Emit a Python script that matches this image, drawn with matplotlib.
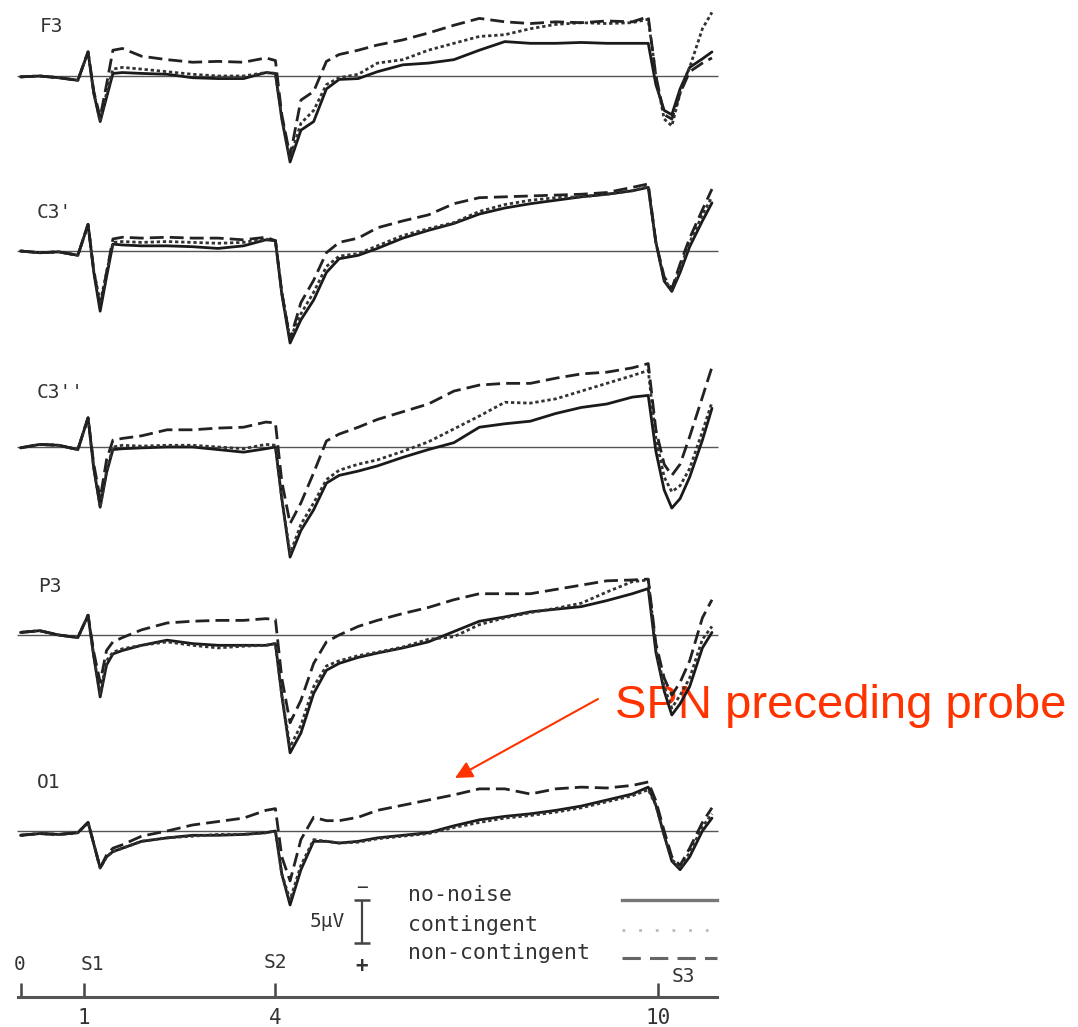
import matplotlib
matplotlib.use("Agg")
import matplotlib.pyplot as plt
from matplotlib.lines import Line2D
from matplotlib.transforms import blended_transform_factory

# ---------------- data (µV, negative plotted upward) ----------------
time_s = [0.0, 0.3, 0.6, 0.9, 1.06, 1.15, 1.25, 1.35, 1.45, 1.6, 1.9, 2.3, 2.7, 3.1,
          3.5, 3.85, 4.0, 4.1, 4.23, 4.4, 4.6, 4.8, 5.0, 5.3, 5.6, 6.0, 6.4, 6.8,
          7.2, 7.6, 8.0, 8.4, 8.8, 9.2, 9.6, 9.85, 9.97, 10.1, 10.22, 10.35, 10.5,
          10.7, 10.85]

channels = ["F3", "C3'", "C3''", "P3", "O1"]
conditions = ["no-noise", "contingent", "non-contingent"]

f3_no_noise = [0.1, 0.0, 0.2, 0.5, -2.8, 2.0, 5.3, 2.5, -0.3, -0.4, -0.3, -0.2, 0.2, 0.3, 0.3, -0.4, -0.3, 5.0, 10.0, 6.3, 5.3, 1.5, 0.4, 0.3, -0.5, -1.3, -1.5, -1.9, -3.0, -4.0, -3.8, -3.8, -3.9, -3.8, -3.8, -3.8, 1.0, 4.0, 4.5, 1.5, -1.0, -2.0, -2.8]
f3_contingent = [0.1, 0.0, 0.2, 0.5, -2.8, 2.0, 5.3, 2.0, -0.8, -1.0, -0.8, -0.5, -0.2, 0.0, 0.0, -0.4, -0.3, 4.8, 9.5, 5.5, 4.0, 1.0, 0.2, -0.2, -1.5, -1.9, -3.0, -3.8, -4.6, -4.8, -5.5, -6.0, -6.2, -6.1, -6.2, -6.6, 0.0, 5.0, 5.8, 2.0, -1.0, -5.5, -7.4]
f3_non_contingent = [0.1, 0.0, 0.2, 0.5, -2.8, 1.8, 4.8, 1.0, -3.0, -3.2, -2.3, -1.9, -1.6, -1.7, -1.6, -2.1, -1.8, 4.5, 9.3, 2.8, 1.8, -1.7, -2.5, -3.0, -3.6, -4.2, -5.0, -5.9, -6.7, -6.3, -6.1, -6.3, -6.2, -6.4, -6.3, -6.9, 0.0, 4.5, 5.0, 2.0, -0.5, -1.5, -2.1]

c3a_no_noise = [0.0, 0.2, 0.1, 0.5, -3.1, 2.5, 7.0, 3.0, -0.8, -0.7, -0.6, -0.6, -0.5, -0.3, -0.6, -1.3, -1.2, 5.0, 10.7, 8.0, 5.7, 2.5, 0.9, 0.5, -0.3, -1.5, -2.4, -3.2, -4.3, -5.0, -5.5, -5.9, -6.3, -6.6, -7.0, -7.4, -1.0, 3.5, 4.7, 2.5, -0.5, -3.5, -5.6]
c3a_contingent = [0.0, 0.2, 0.1, 0.5, -3.1, 2.3, 6.0, 2.5, -1.0, -1.1, -1.0, -1.1, -1.0, -0.9, -1.0, -1.4, -1.2, 4.8, 10.2, 7.3, 4.8, 1.8, 0.6, 0.3, -0.6, -1.8, -2.6, -3.3, -4.6, -5.4, -5.9, -6.2, -6.3, -6.6, -7.0, -7.5, -1.0, 3.3, 4.5, 2.0, -1.0, -4.2, -6.3]
c3a_non_contingent = [0.0, 0.2, 0.1, 0.5, -3.1, 2.3, 6.5, 2.5, -1.4, -1.6, -1.5, -1.6, -1.5, -1.5, -1.3, -1.6, -1.2, 4.8, 10.3, 6.0, 3.4, 0.2, -1.0, -1.5, -2.7, -3.5, -4.2, -5.5, -6.2, -6.3, -6.4, -6.5, -6.6, -6.8, -7.4, -7.8, -1.0, 3.0, 4.4, 1.5, -1.5, -4.8, -7.2]

c3b_no_noise = [0.1, -0.3, -0.2, 0.3, -3.4, 2.5, 7.0, 3.0, 0.3, 0.2, 0.1, 0.0, 0.0, 0.3, 0.6, 0.2, 0.0, 6.0, 12.8, 9.7, 7.3, 4.2, 3.3, 2.8, 2.2, 1.2, 0.3, -0.5, -2.3, -2.7, -3.0, -3.9, -4.6, -5.0, -5.8, -6.0, 0.5, 5.0, 7.1, 6.0, 3.5, -0.8, -4.5]
c3b_contingent = [0.1, -0.3, -0.2, 0.3, -3.4, 2.5, 7.0, 2.8, 0.0, -0.2, -0.1, -0.2, -0.2, 0.0, 0.2, -0.3, -0.2, 6.0, 12.4, 9.0, 6.5, 3.8, 2.7, 2.0, 1.5, 0.5, -0.6, -2.1, -3.6, -5.2, -5.1, -5.6, -6.5, -7.4, -8.3, -8.9, -1.0, 3.5, 5.2, 4.5, 2.5, -1.8, -5.2]
c3b_non_contingent = [0.1, -0.3, -0.2, 0.3, -3.4, 2.0, 6.0, 1.5, -0.8, -1.0, -1.3, -2.0, -2.0, -2.2, -2.3, -2.9, -2.8, 4.0, 8.9, 6.5, 3.0, -0.7, -1.5, -2.3, -3.2, -4.1, -5.0, -6.5, -7.2, -7.4, -7.4, -8.0, -8.5, -8.7, -9.2, -9.7, -2.0, 2.0, 3.3, 2.0, -1.2, -5.8, -9.3]

p3_no_noise = [-0.3, -0.5, 0.0, 0.3, -2.3, 2.5, 7.2, 3.5, 2.2, 1.8, 1.2, 0.6, 1.0, 1.2, 1.2, 1.2, 1.0, 7.0, 13.7, 11.4, 6.8, 4.1, 3.3, 2.6, 2.1, 1.5, 0.8, -0.4, -1.6, -2.1, -2.7, -3.0, -3.3, -4.0, -4.8, -5.4, 2.0, 6.5, 9.3, 8.0, 6.0, 1.5, -0.3]
p3_contingent = [-0.3, -0.5, 0.0, 0.3, -2.3, 2.5, 6.8, 3.0, 2.0, 1.6, 1.2, 0.8, 1.2, 1.5, 1.3, 1.2, 1.0, 7.0, 13.0, 10.5, 6.0, 3.6, 3.0, 2.4, 2.0, 1.4, 0.5, 0.2, -1.2, -2.0, -2.6, -3.1, -3.7, -5.0, -6.2, -6.4, 1.5, 6.0, 8.5, 7.0, 5.0, 0.5, -1.0]
p3_non_contingent = [-0.3, -0.5, 0.0, 0.3, -2.3, 2.0, 5.5, 1.8, 0.8, 0.3, -0.6, -1.4, -1.6, -1.7, -1.7, -1.9, -1.8, 5.0, 10.2, 7.6, 3.3, 0.8, 0.0, -1.0, -1.7, -2.5, -3.2, -4.1, -4.8, -4.8, -4.8, -5.3, -5.8, -6.3, -6.4, -6.5, 1.0, 5.0, 7.0, 5.5, 3.0, -2.0, -4.1]

o1_no_noise = [0.5, 0.3, 0.4, 0.2, -1.0, 1.5, 4.3, 3.0, 2.4, 2.0, 1.2, 0.8, 0.5, 0.5, 0.4, 0.2, 0.0, 5.0, 8.6, 4.5, 1.2, 1.2, 1.4, 1.2, 0.8, 0.5, 0.2, -0.6, -1.3, -1.7, -2.0, -2.4, -2.9, -3.6, -4.3, -5.1, -3.0, 0.5, 3.5, 4.5, 3.0, 0.0, -1.5]
o1_contingent = [0.5, 0.3, 0.4, 0.2, -1.0, 1.5, 4.3, 3.0, 2.4, 2.0, 1.2, 0.8, 0.6, 0.4, 0.4, 0.2, 0.0, 5.0, 8.0, 4.0, 1.0, 1.2, 1.4, 1.3, 0.9, 0.6, 0.3, -0.4, -1.0, -1.5, -1.8, -2.2, -2.7, -3.4, -4.1, -4.8, -3.0, 0.5, 3.3, 4.3, 2.5, -0.5, -2.0]
o1_non_contingent = [0.5, 0.3, 0.4, 0.2, -1.0, 1.5, 4.3, 2.8, 2.0, 1.6, 0.6, 0.0, -0.7, -1.1, -1.5, -2.4, -2.6, 3.0, 5.8, 1.0, -1.6, -1.2, -1.2, -1.6, -2.4, -3.0, -3.6, -4.2, -4.9, -4.9, -4.3, -4.9, -5.1, -5.0, -5.3, -5.7, -3.5, 0.0, 3.0, 4.0, 2.0, -1.0, -2.7]

axis_ticks = [0, 1, 4, 10]
axis_tick_labels = ["", "1", "4", "10"]
event_labels = ["0", "S1", "S2", "S3"]
scale_uv = 5

series_by_channel = [
    (f3_no_noise, f3_contingent, f3_non_contingent),
    (c3a_no_noise, c3a_contingent, c3a_non_contingent),
    (c3b_no_noise, c3b_contingent, c3b_non_contingent),
    (p3_no_noise, p3_contingent, p3_non_contingent),
    (o1_no_noise, o1_contingent, o1_non_contingent),
]

# ---------------- layout ----------------
W, H = 1078, 1027
X0, SX = 20.5, 63.73          # px of t=0, px per second
SY = 8.6                      # px per µV
baseline_px = [76, 251, 447, 635, 831]
label_pos = [(40, 27), (37, 213), (37, 393), (38, 587), (37, 783)]
HALF = 140
MONO = "DejaVu Sans Mono"
TXT = "#333333"

styles = [
    dict(color="#1a1a1a", lw=2.0, ls="-"),
    dict(color="#333333", lw=2.0, ls=(0, (1.2, 1.0))),
    dict(color="#222222", lw=2.0, ls=(0, (5, 2.2))),
]

fig = plt.figure(figsize=(W / 100, H / 100), dpi=100)
xlim = (-X0 / SX, (W - X0) / SX)

ov = fig.add_axes([0, 0, 1, 1])
ov.set_xlim(0, W)
ov.set_ylim(H, 0)
ov.axis("off")
ov.patch.set_alpha(0)

panel_axes = []
for ch, yb, series, (lx, ly) in zip(channels, baseline_px, series_by_channel, label_pos):
    ax = fig.add_axes([0, 1 - (yb + HALF) / H, 1, 2 * HALF / H])
    ax.set_xlim(xlim)
    ax.set_ylim(HALF / SY, -HALF / SY)
    ax.axis("off")
    ax.patch.set_alpha(0)
    ax.hlines(0, -0.05, 10.95, color="#555555", lw=1.0)
    for vals, st in zip(series, styles):
        ax.plot(time_s, vals, clip_on=False, solid_capstyle="round", **st)
    ov.text(lx, ly, ch, ha="left", va="center", fontsize=14, family=MONO, color=TXT)
    panel_axes.append(ax)

# scale bar in the O1 panel (data units: µV)
axo = panel_axes[-1]
bar_t = (362 - X0) / SX
bar_top = 8.0
axo.vlines(bar_t, bar_top, bar_top + scale_uv, color="#444444", lw=1.6)
axo.hlines([bar_top, bar_top + scale_uv], bar_t - 0.13, bar_t + 0.13, color="#444444", lw=1.8)
axo.text(bar_t - 0.27, bar_top + scale_uv / 2, "5µV", ha="right", va="center",
         fontsize=14, family=MONO, color=TXT)
axo.text(bar_t, bar_top - 1.4, "−", ha="center", va="center", fontsize=14, family=MONO, color=TXT)
axo.text(bar_t, bar_top + scale_uv + 2.7, "+", ha="center", va="center", fontsize=15,
         family=MONO, color=TXT, fontweight="bold")

# time axis
tax = fig.add_axes([0, 1 - 997 / H, 1, 0.01])
tax.set_xlim(xlim)
tax.patch.set_alpha(0)
for s in ("top", "left", "right"):
    tax.spines[s].set_visible(False)
tax.spines["bottom"].set_bounds(-0.04, 10.93)
tax.spines["bottom"].set_color("#555555")
tax.spines["bottom"].set_linewidth(2.2)
tax.set_yticks([])
tax.set_xticks(axis_ticks)
tax.set_xticklabels(axis_tick_labels, fontsize=15, family=MONO, color=TXT)
tax.tick_params(axis="x", direction="in", length=10, width=1.8, color="#444444", pad=8)

ev_tr = blended_transform_factory(tax.transData, ov.transData)
ev_offsets = [(-0.02, 965), (0.12, 965), (0.0, 963), (0.4, 977)]
for t, lab, (dx, y) in zip(axis_ticks, event_labels, ev_offsets):
    tax.text(t + dx, y, lab, transform=ev_tr, ha="center", va="center",
             fontsize=14, family=MONO, color=TXT)

# legend (text left, sample lines right)
leg_rows = [895, 925, 953]
leg_styles = [
    dict(color="#777777", lw=2.4, ls="-"),
    dict(color="#bbbbbb", lw=2.0, ls=(0, (1, 5))),
    dict(color="#666666", lw=2.2, ls=(0, (6, 3))),
]
for cond, y, st in zip(conditions, leg_rows, leg_styles):
    ov.text(408, y, cond, ha="left", va="center", fontsize=15.5, family=MONO, color=TXT)
    ov.add_line(Line2D([622, 717], [y + 5, y + 5], **st))

# red annotation
RED = "#ff3300"
ov.annotate("", xy=(455, 778), xytext=(598, 699),
            arrowprops=dict(arrowstyle="-|>", color=RED, lw=1.5, mutation_scale=26,
                            shrinkA=0, shrinkB=0))
ov.text(615, 706, "SPN preceding probe", ha="left", va="center", fontsize=34,
        family="Liberation Sans", color=RED)

fig.savefig("out.png", dpi=100)
